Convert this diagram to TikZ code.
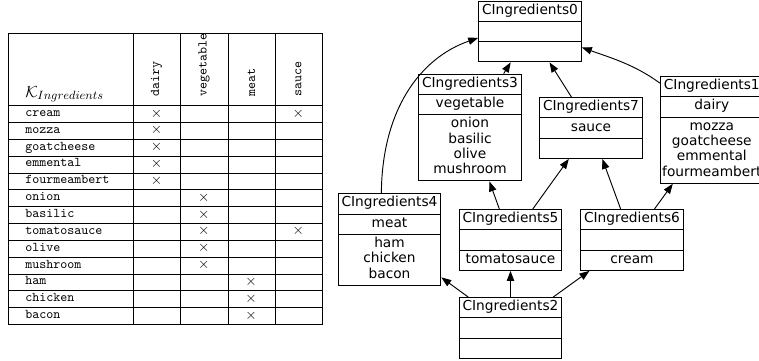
\documentclass[tikz,border=0pt]{standalone}
\usepackage{fontspec}
\newfontfamily\dejavu{DejaVu Sans}
\usetikzlibrary{shapes.multipart,arrows.meta}

\tikzset{
	classbox/.style={draw, line width=0.7pt, rectangle split, rectangle split parts=3,
		align=center, minimum width=77pt, inner xsep=0.5pt, inner ysep=1.5pt,
		font=\dejavu\fontsize{10.3}{11.5}\selectfont},
	isa/.style={-{Triangle[length=7.5pt,width=5.5pt]}, line width=0.7pt},
	tabline/.style={black, line width=0.6pt},
}

\begin{document}
\begin{tikzpicture}[x=0.75pt,y=0.75pt,yscale=-1,xscale=1]
	\useasboundingbox (0,0) rectangle (759,360);
	
	%Shape: Table frame
	\draw[tabline] (8,33) rectangle (322,324.5);
	%Straight Lines: header bottom
	\draw[tabline] (8,105.5) -- (322,105.5);
	%Straight Lines: rows
	\foreach \i in {1,...,12}
		\draw[tabline] (8,105.5+16.85*\i) -- (322,105.5+16.85*\i);
	%Straight Lines: columns
	\foreach \x in {133,180,228,275}
		\draw[tabline] (\x,33) -- (\x,324.5);
	
	% Text Node
	\node[anchor=base west, inner sep=0pt, font=\fontsize{12.5}{15}\selectfont] (kname) at (25,97) {$\mathcal{K}_{Ingredients}$};
	% Text Nodes: attributes
	\foreach \lbl/\x [count=\j] in {dairy/156.5, vegetable/204, meat/251.5, sauce/298.5}
		\node[rotate=90, anchor=west, inner sep=0pt, font=\ttfamily] (att\j) at (\x,97) {\lbl};
	% Text Nodes: objects and crosses
	\foreach \obj/\atts [count=\i] in {cream/{1,4}, mozza/1, goatcheese/1, emmental/1, fourmeambert/1, onion/2, basilic/2, tomatosauce/{2,4}, olive/2, mushroom/2, ham/3, chicken/3, bacon/3}{
		\node[anchor=base west, inner sep=0pt, font=\ttfamily] (obj\i) at (25,105.5+16.85*\i-6) {\obj};
		\foreach \a in \atts
			\node[inner sep=0pt, font=\fontsize{11}{13}\selectfont] (x\i\a) at (109.25+47.25*\a,105.5+16.85*\i-9) {$\times$};
	}
	
	% Concept nodes
	\node[classbox] (c0) at (530,31.5) {\strut CIngredients0\nodepart{second}\strut\nodepart{third}\strut};
	\node[classbox] (c3) at (470,127.5) {\strut CIngredients3\nodepart{second}\strut vegetable\nodepart{third}\strut onion\\\strut basilic\\\strut olive\\\strut mushroom};
	\node[classbox] (c7) at (591,128) {\strut CIngredients7\nodepart{second}\strut sauce\nodepart{third}\strut};
	\node[classbox, anchor=north west] (c1) at (660,76) {\strut CIngredients1\nodepart{second}\strut dairy\nodepart{third}\strut mozza\\\strut goatcheese\\\strut emmental\\\strut fourmeambert};
	\node[classbox] (c4) at (389.5,239.5) {\strut CIngredients4\nodepart{second}\strut meat\nodepart{third}\strut ham\\\strut chicken\\\strut bacon};
	\node[classbox] (c5) at (510.5,240) {\strut CIngredients5\nodepart{second}\strut\nodepart{third}\strut tomatosauce};
	\node[classbox] (c6) at (632,240) {\strut CIngredients6\nodepart{second}\strut\nodepart{third}\strut cream};
	\node[classbox] (c2) at (510.5,328) {\strut CIngredients2\nodepart{second}\strut\nodepart{third}\strut};
	
	%Straight Lines
	\draw[isa] (c3) -- (c0);
	\draw[isa] (c7) -- (c0);
	\draw[isa] (c5) -- (c3);
	\draw[isa] (c5) -- (c7);
	\draw[isa] (c6) -- (c7);
	\draw[isa] (c6) -- (c1);
	\draw[isa] (c2) -- (c4);
	\draw[isa] (c2) -- (c5);
	\draw[isa] (c2) -- (c6);
	%Curve Lines
	\draw[isa] (c4.100) .. controls (382,110) and (420,58) .. (c0.187);
	\draw[isa] (c1.138) .. controls (634,64) and (608,57) .. (c0.343);
\end{tikzpicture}
\end{document}
